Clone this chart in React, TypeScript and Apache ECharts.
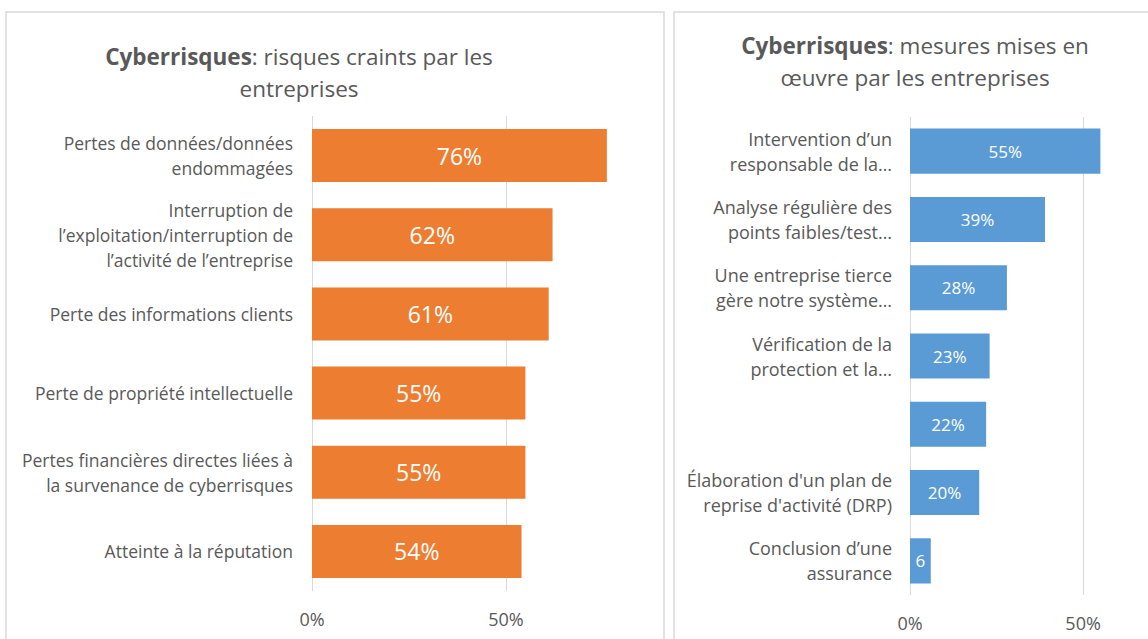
import React, { useEffect, useRef } from "react";
import * as echarts from "echarts";

const leftCategories = [
  "Pertes de données/données\nendommagées",
  "Interruption de\nl’exploitation/interruption de\nl’activité de l’entreprise",
  "Perte des informations clients",
  "Perte de propriété intellectuelle",
  "Pertes financières directes liées à\nla survenance de cyberrisques",
  "Atteinte à la réputation",
];
const leftValues = [76, 62, 61, 55, 55, 54];

const rightCategories = [
  "Intervention d’un\nresponsable de la…",
  "Analyse régulière des\npoints faibles/test…",
  "Une entreprise tierce\ngère notre système…",
  "Vérification de la\nprotection et la…",
  "",
  "Élaboration d'un plan de\nreprise d'activité (DRP)",
  "Conclusion d’une\nassurance",
];
const rightValues = [55, 39, 28, 23, 22, 20, 6];

const FONT = "'Open Sans', sans-serif";
const GREY = "#595959";

export default function App() {
  const ref = useRef<HTMLDivElement>(null);
  useEffect(() => {
    const chart = echarts.init(ref.current!, null, { renderer: "svg" });
    const valueAxis = (gridIndex: number, max: number) => ({
      type: "value",
      gridIndex,
      min: 0,
      max,
      interval: 50,
      axisLine: { show: false },
      axisTick: { show: false },
      splitLine: { show: true, showMaxLine: false, lineStyle: { color: "#D9D9D9", width: 1 } },
      axisLabel: {
        showMaxLabel: false,
        formatter: (v: number) => v + "%",
        color: GREY,
        fontSize: 18,
        fontFamily: FONT,
        margin: 19,
      },
    });
    const catAxis = (gridIndex: number, data: string[], margin: number, fontSize: number) => ({
      type: "category",
      gridIndex,
      data,
      inverse: true,
      axisLine: { show: false },
      axisTick: { show: false },
      axisLabel: {
        color: GREY,
        fontSize,
        fontFamily: FONT,
        margin,
        lineHeight: 25,
        align: "right",
      },
    });
    const titleRich = {
      b: { fontSize: 22.5, fontWeight: "bold", fill: GREY, fontFamily: FONT, lineHeight: 32 },
      n: { fontSize: 22.5, fill: GREY, fontFamily: FONT, lineHeight: 32 },
    };
    chart.setOption({
      animation: false,
      graphic: [
        {
          type: "rect",
          shape: { x: 6, y: 12, width: 658, height: 650 },
          style: { fill: "none", stroke: "#D9D9D9", lineWidth: 1.5 },
          silent: true,
        },
        {
          type: "rect",
          shape: { x: 674, y: 12, width: 500, height: 650 },
          style: { fill: "none", stroke: "#D9D9D9", lineWidth: 1.5 },
          silent: true,
        },
        {
          type: "text",
          x: 299,
          y: 40,
          style: {
            text: "{b|Cyberrisques}{n|: risques craints par les}\n{n|entreprises}",
            align: "center",
            verticalAlign: "top",
            rich: titleRich,
          },
        },
        {
          type: "text",
          x: 915,
          y: 29,
          style: {
            text: "{b|Cyberrisques}{n|: mesures mises en}\n{n|œuvre par les entreprises}",
            align: "center",
            verticalAlign: "top",
            rich: titleRich,
          },
        },
      ],
      grid: [
        { left: 312, top: 116, width: 388, height: 475 },
        { left: 910, top: 117, width: 225, height: 478 },
      ],
      xAxis: [valueAxis(0, 100), valueAxis(1, 65)],
      yAxis: [catAxis(0, leftCategories, 19, 17.5), catAxis(1, rightCategories, 18, 18)],
      series: [
        {
          type: "bar",
          xAxisIndex: 0,
          yAxisIndex: 0,
          data: leftValues,
          barCategoryGap: "33%",
          itemStyle: { color: "#ED7D31" },
          label: {
            show: true,
            position: "inside",
            formatter: "{c}%",
            color: "#fff",
            fontSize: 23,
            fontFamily: FONT,
          },
        },
        {
          type: "bar",
          xAxisIndex: 1,
          yAxisIndex: 1,
          data: rightValues.map((v) =>
            v < 10 ? { value: v, label: { width: 20, overflow: "truncate", ellipsis: "" } } : v
          ),
          barCategoryGap: "34%",
          itemStyle: { color: "#5B9BD5" },
          label: {
            show: true,
            position: "inside",
            formatter: "{c}%",
            color: "#fff",
            fontSize: 17,
            fontFamily: FONT,
          },
        },
      ],
    });
    return () => chart.dispose();
  }, []);
  return (
    <div
      ref={ref}
      style={{ position: "fixed", left: 0, top: 0, width: 1148, height: 639, background: "#fff" }}
    />
  );
}
